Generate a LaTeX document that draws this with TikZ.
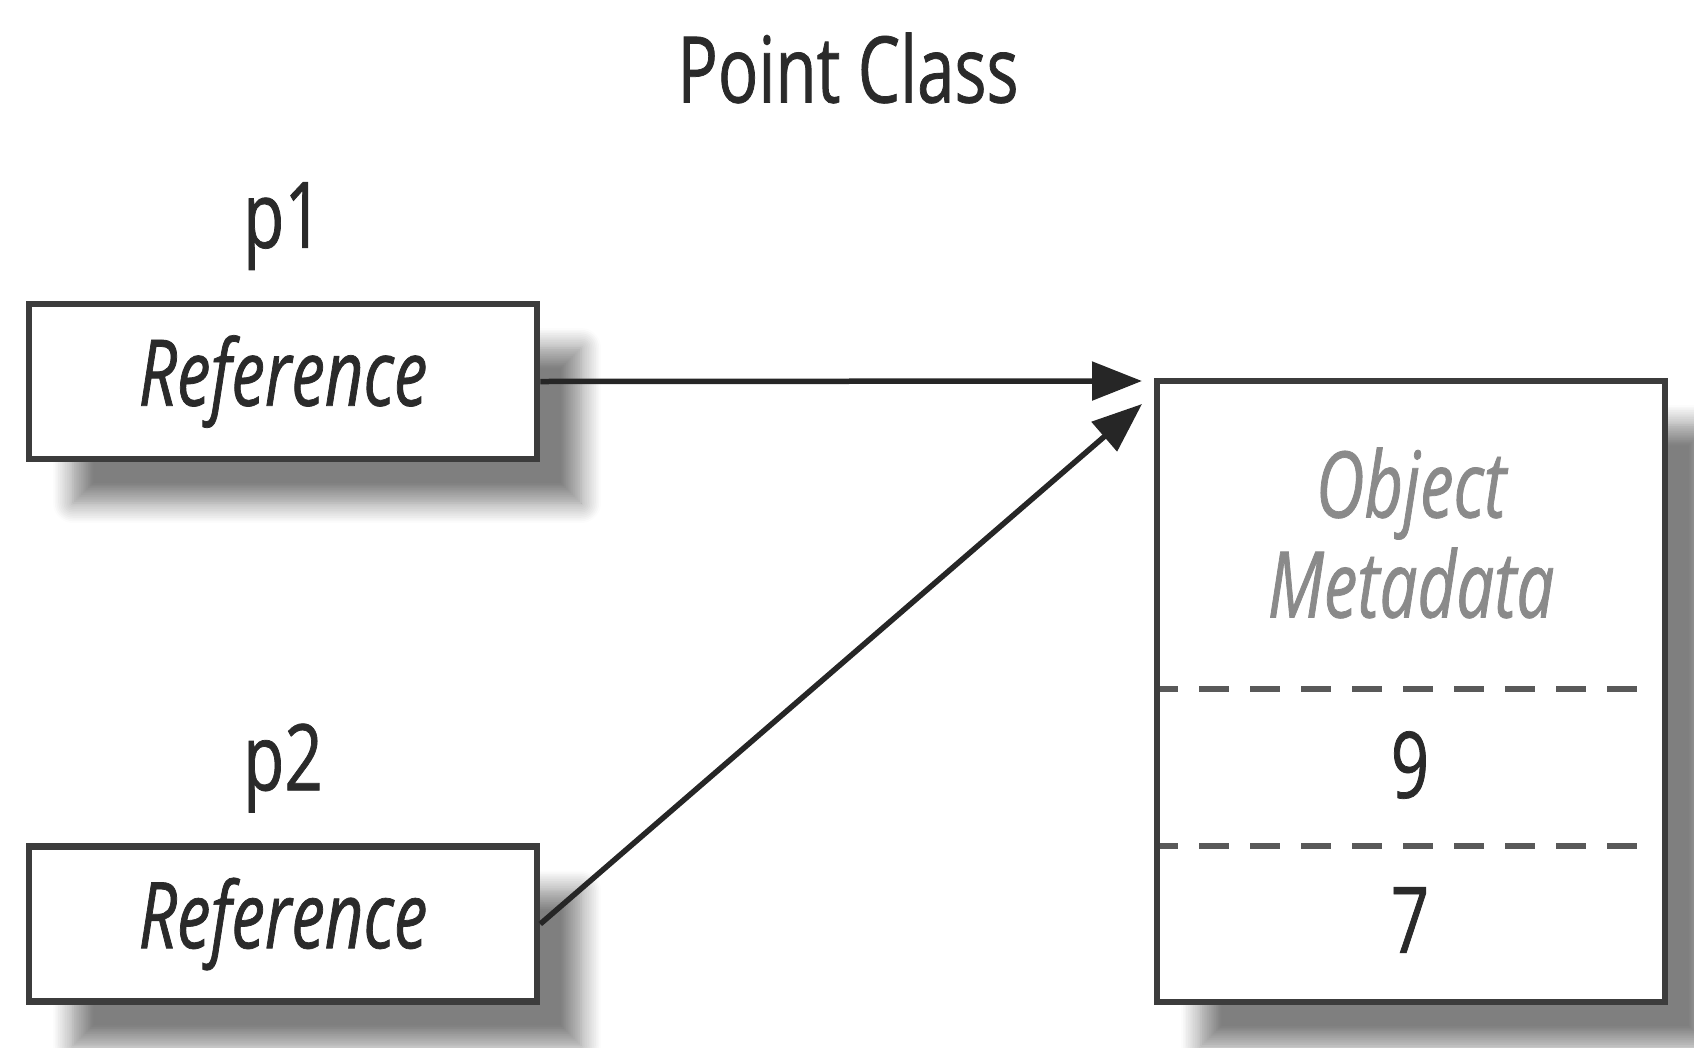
\documentclass[tikz,border=0pt]{standalone}
\usepackage{fontspec}
\setmainfont{Open Sans}[FakeStretch=0.73, FakeBold=0.8]
\usetikzlibrary{arrows.meta,shadows.blur}
\definecolor{edge}{HTML}{3C3C3C}
\definecolor{txt}{HTML}{2A2A2A}
\definecolor{meta}{HTML}{8A8A8A}
\tikzset{
  bigfont/.style={font=\fontsize{92}{100}\selectfont},
  boxshadow/.style={blur shadow={shadow xshift=44pt, shadow yshift=-44pt, shadow blur radius=20pt, shadow blur steps=12, shadow opacity=50}},
  refbox/.style={draw=edge, line width=6.5pt, fill=white, minimum width=508pt, minimum height=155pt, inner sep=0pt, text=txt, boxshadow, font=\fontsize{92}{100}\selectfont\itshape},
  objbox/.style={draw=edge, line width=6.5pt, fill=white, minimum width=508pt, minimum height=621pt, inner sep=0pt, boxshadow},
  lbl/.style={bigfont, text=txt, inner sep=0pt},
  metatext/.style={font=\fontsize{92}{100}\selectfont\itshape, text=meta, inner sep=0pt, align=center},
  sep/.style={draw=edge!85, line width=6pt, dash pattern=on 30pt off 21pt, dash phase=12pt},
  link/.style={draw=black!85, line width=5.5pt, -{Triangle[length=50pt,width=38pt]}}
}
\begin{document}
\begin{tikzpicture}[x=1pt,y=-1pt]
\useasboundingbox (0,0) rectangle (1694,1047);
\node[lbl] (title) at (848,68) {Point Class};
\node[lbl] (l1) at (283,226) {p1};
\node[lbl] (l2) at (283,768) {p2};
\node[refbox] (r1) at (283,381.5) {Reference};
\node[refbox] (r2) at (283,924) {Reference};
\node[objbox] (obj) at (1411,691.5) {};
\coordinate (d1a) at (1160,689);
\coordinate (d1b) at (1655,689);
\coordinate (d2a) at (1160,846);
\coordinate (d2b) at (1655,846);
\draw[sep] (d1a) -- (d1b);
\draw[sep] (d2a) -- (d2b);
\node[metatext] (om) at (1411,533) {Object\\Metadata};
\node[lbl] (v9) at (1410,765) {9};
\node[lbl] (v7) at (1410,920) {7};
\coordinate (t1) at (1142,381);
\coordinate (t2) at (1142,404);
\draw[link] (r1.east) -- (t1);
\draw[link] (r2.east) -- (t2);
\end{tikzpicture}
\end{document}
